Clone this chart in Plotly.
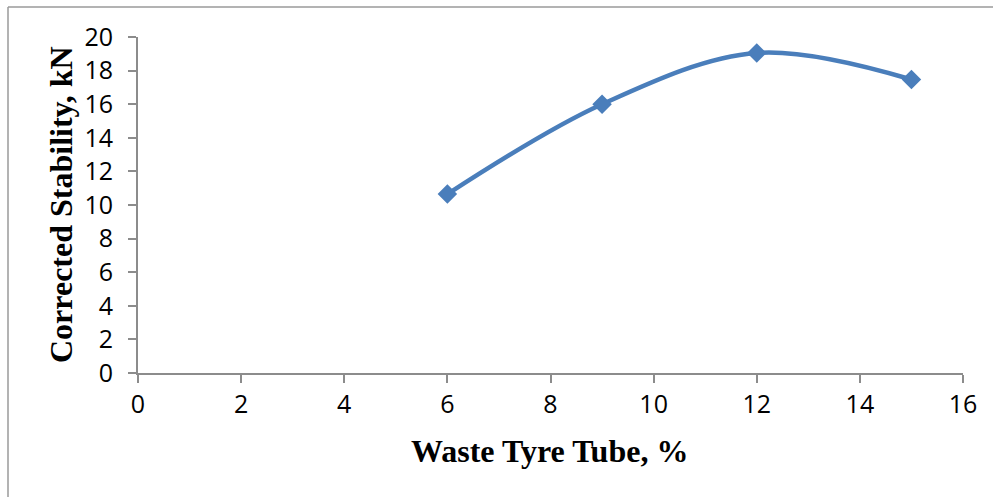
import plotly.graph_objects as go

# Corrected stability against waste tyre tube content
tube_pct = [6, 9, 12, 15]
stability_kn = [10.65, 16.0, 19.05, 17.47]

x_ticks = [0, 2, 4, 6, 8, 10, 12, 14, 16]
y_ticks = [0, 2, 4, 6, 8, 10, 12, 14, 16, 18, 20]

W, H = 993, 497
ML, MR, MT, MB = 138, 30, 37, 124

axis_grey = "#8c8c8c"
tick_font = dict(family="Open Sans", size=25, color="#000000")
title_font = dict(family="Liberation Serif", size=32, color="#000000")

fig = go.Figure()
fig.add_trace(go.Scatter(
    x=tube_pct,
    y=stability_kn,
    mode="lines+markers",
    line=dict(color="#4a7ebb", width=4.5, shape="spline", smoothing=1.0),
    marker=dict(symbol="diamond", size=15, color="#4a7ebb"),
    showlegend=False,
    cliponaxis=False,
))
# transparent copy bound to the label axis so it is laid out
fig.add_trace(go.Scatter(
    x=tube_pct, y=stability_kn, yaxis="y2",
    mode="markers", marker=dict(opacity=0),
    showlegend=False, hoverinfo="skip",
))

fig.update_layout(
    width=W,
    height=H,
    margin=dict(l=ML, r=MR, t=MT, b=MB, autoexpand=False),
    paper_bgcolor="white",
    plot_bgcolor="white",
    font=tick_font,
    xaxis=dict(
        range=[0, 16],
        tickvals=x_ticks,
        ticktext=[str(v) for v in x_ticks],
        showgrid=False,
        zeroline=False,
        showline=True,
        linecolor=axis_grey,
        linewidth=1.5,
        ticks="outside",
        ticklen=8,
        tickwidth=1.5,
        tickcolor=axis_grey,
        tickfont=tick_font,
        automargin=False,
    ),
    # drawn axis: line and tick marks
    yaxis=dict(
        range=[0, 20],
        tickvals=y_ticks,
        showticklabels=False,
        showgrid=False,
        zeroline=False,
        showline=True,
        linecolor=axis_grey,
        linewidth=1.5,
        ticks="outside",
        ticklen=8,
        tickwidth=1.5,
        tickcolor=axis_grey,
        automargin=False,
    ),
    # label axis: same scale, transparent long ticks set the label gap
    yaxis2=dict(
        range=[0, 20],
        overlaying="y",
        anchor="free",
        position=0,
        side="left",
        tickvals=y_ticks,
        ticktext=[str(v) for v in y_ticks],
        showgrid=False,
        zeroline=False,
        showline=False,
        ticks="outside",
        ticklen=20,
        tickcolor="rgba(0,0,0,0)",
        tickfont=tick_font,
        automargin=False,
    ),
)

pw = W - ML - MR
ph = H - MT - MB

def px_to_paper_x(px):
    return (px - ML) / pw

def px_to_paper_y(py):
    return (H - MB - py) / ph

# axis titles
fig.add_annotation(
    text="<b>Waste Tyre Tube, %</b>",
    xref="paper", yref="paper",
    x=px_to_paper_x(549), y=px_to_paper_y(451),
    xanchor="center", yanchor="middle",
    showarrow=False, font=title_font,
)
fig.add_annotation(
    text="<b>Corrected Stability, kN</b>",
    xref="paper", yref="paper",
    x=px_to_paper_x(61), y=px_to_paper_y(205),
    xanchor="center", yanchor="middle",
    textangle=-90,
    showarrow=False, font=title_font,
)

# outer frame (left and top edges)
frame = dict(color="#9a9a9a", width=1.5)
fig.add_shape(type="line", xref="paper", yref="paper",
              x0=px_to_paper_x(8), x1=px_to_paper_x(8),
              y0=px_to_paper_y(7), y1=px_to_paper_y(H + 2), line=frame)
fig.add_shape(type="line", xref="paper", yref="paper",
              x0=px_to_paper_x(8), x1=px_to_paper_x(W + 2),
              y0=px_to_paper_y(7), y1=px_to_paper_y(7), line=frame)

fig.write_html("out.html")
